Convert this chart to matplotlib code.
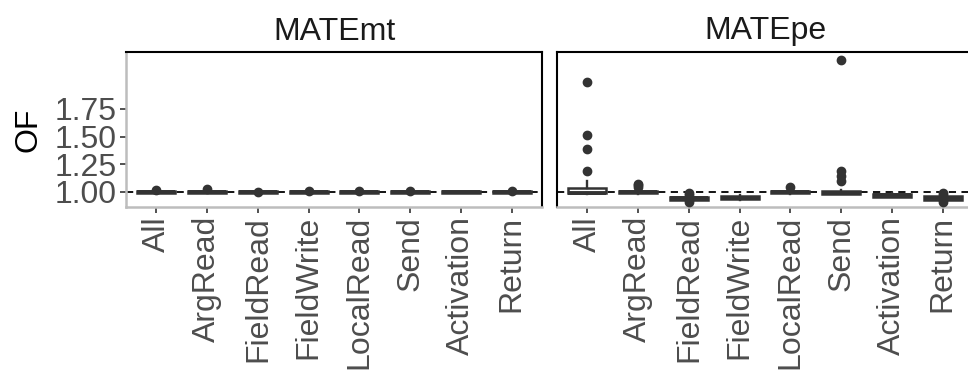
import matplotlib
matplotlib.use("Agg")
import matplotlib.pyplot as plt

plt.rcParams['font.family'] = ['Liberation Sans', 'DejaVu Sans']

categories = ["All", "ArgRead", "FieldRead", "FieldWrite", "LocalRead", "Send", "Activation", "Return"]
panels = ["MATEmt", "MATEpe"]

# Box statistics: q1, median, q3, whisker low, whisker high, outliers
mt_q1 = [0.991, 0.991, 0.990, 0.991, 0.991, 0.991, 0.991, 0.991]
mt_med = [1.000, 1.000, 0.999, 1.000, 1.000, 1.000, 1.000, 1.000]
mt_q3 = [1.007, 1.007, 1.006, 1.007, 1.007, 1.007, 1.007, 1.007]
mt_wlo = [0.989, 0.989, 0.988, 0.989, 0.989, 0.989, 0.989, 0.989]
mt_whi = [1.010, 1.010, 1.008, 1.010, 1.010, 1.010, 1.008, 1.010]
mt_fliers = [[1.015], [1.030], [0.998], [1.012], [1.010], [1.012], [], [1.008]]

pe_q1 = [0.990, 0.990, 0.930, 0.932, 0.990, 0.986, 0.958, 0.930]
pe_med = [0.995, 1.000, 0.945, 0.948, 1.000, 0.995, 0.972, 0.947]
pe_q3 = [1.038, 1.008, 0.958, 0.962, 1.010, 1.006, 0.985, 0.960]
pe_wlo = [0.985, 0.985, 0.925, 0.925, 0.985, 0.980, 0.952, 0.925]
pe_whi = [1.100, 1.025, 0.965, 0.970, 1.020, 1.015, 0.990, 0.965]
pe_fliers = [[1.190, 1.391, 1.512, 1.994],
             [1.045, 1.060, 1.070],
             [0.910, 0.925, 0.975, 0.990],
             [],
             [1.045],
             [1.100, 1.145, 1.190, 2.190],
             [],
             [0.910, 0.925, 0.975, 0.990]]

ylim = (0.864, 2.265)
yticks = [1.00, 1.25, 1.50, 1.75]
ytick_labels = ["1.00", "1.25", "1.50", "1.75"]

fig = plt.figure(figsize=(9.68, 3.74), dpi=100)
W, H = 968, 374
def rect(x0, y0, x1, y1):
    return [x0 / W, 1 - y1 / H, (x1 - x0) / W, (y1 - y0) / H]

ax1 = fig.add_axes(rect(126, 52, 542, 207))
ax2 = fig.add_axes(rect(557, 52, 973, 207))

dark = "#333333"
gray_axis = "#BDBDBD"
text_gray = "#4D4D4D"
FS = 23

def draw(ax, q1, med, q3, wlo, whi, fliers, title, show_y):
    stats = []
    for i, c in enumerate(categories):
        stats.append(dict(label=c, q1=q1[i], med=med[i], q3=q3[i],
                          whislo=wlo[i], whishi=whi[i], fliers=fliers[i]))
    ax.axhline(1.0, color="black", lw=1.3, dashes=(4, 3), zorder=1)
    ax.bxp(stats, positions=range(1, len(categories) + 1), widths=0.75,
           patch_artist=True, showcaps=False,
           boxprops=dict(facecolor="white", edgecolor=dark, linewidth=1.8),
           medianprops=dict(color=dark, linewidth=2.8),
           whiskerprops=dict(color=dark, linewidth=1.7),
           flierprops=dict(marker="o", markerfacecolor=dark, markeredgecolor=dark,
                           markersize=6, linestyle="none"),
           zorder=3)
    ax.set_xlim(0.4, len(categories) + 0.6)
    ax.set_ylim(*ylim)
    ax.set_xticks(range(1, len(categories) + 1))
    ax.set_xticklabels(categories, rotation=90, fontsize=FS, color=text_gray)
    ax.set_yticks(yticks)
    if show_y:
        ax.set_yticklabels(ytick_labels, fontsize=FS, color=text_gray)
        ax.set_ylabel("OF", fontsize=FS, color="black", labelpad=8)
    else:
        ax.tick_params(axis="y", left=False, labelleft=False)
    ax.tick_params(axis="both", color=dark, length=4, width=1.2, pad=2.5)
    ax.set_title(title, fontsize=FS, color="#1A1A1A", pad=9)
    for s in ["top", "right"]:
        ax.spines[s].set_color("black")
        ax.spines[s].set_linewidth(1.5)
    ax.spines["bottom"].set_color(gray_axis)
    ax.spines["bottom"].set_linewidth(1.8)
    if show_y:
        ax.spines["left"].set_color(gray_axis)
        ax.spines["left"].set_linewidth(1.8)
    else:
        ax.spines["left"].set_color("black")
        ax.spines["left"].set_linewidth(1.5)

draw(ax1, mt_q1, mt_med, mt_q3, mt_wlo, mt_whi, mt_fliers, panels[0], True)
draw(ax2, pe_q1, pe_med, pe_q3, pe_wlo, pe_whi, pe_fliers, panels[1], False)

fig.savefig("out.png", dpi=100)
